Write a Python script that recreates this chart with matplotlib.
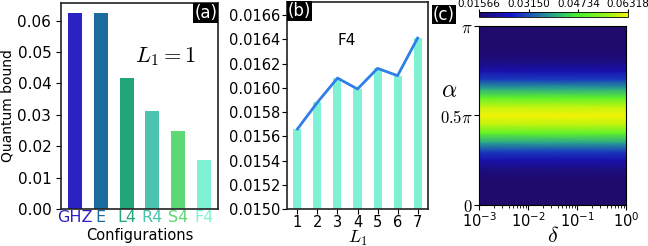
import numpy as np
import matplotlib
matplotlib.use("Agg")
import matplotlib.pyplot as plt
from matplotlib.colors import LinearSegmentedColormap
from matplotlib.ticker import FormatStrFormatter

# panel (a): quantum bound per configuration at L1 = 1
configs = ["GHZ", "E", "L4", "R4", "S4", "F4"]
bounds = [0.0625, 0.0625, 0.0417, 0.03125, 0.025, 0.0156]
config_colors = ["#2c22c4", "#1b6c9e", "#22a678", "#4ac4ae", "#5cd874", "#7ff2d6"]

# panel (b): F4 bound vs L1
l1_values = [1, 2, 3, 4, 5, 6, 7]
f4_bounds = [0.01566, 0.01588, 0.01608, 0.01599, 0.01616, 0.01610, 0.01641]

# panel (c): bound vs alpha (constant along delta)
alpha_over_pi = [0.0, 0.05, 0.1, 0.15, 0.2, 0.25, 0.3, 0.35, 0.4, 0.45, 0.5,
                 0.55, 0.6, 0.65, 0.7, 0.75, 0.8, 0.85, 0.9, 0.95, 1.0]
alpha_bounds = [0.01566, 0.01566, 0.01580, 0.01637, 0.01804, 0.02231, 0.02992,
                0.03942, 0.04987, 0.05938, 0.06318, 0.05938, 0.04987, 0.03942,
                0.02992, 0.02231, 0.01804, 0.01637, 0.01580, 0.01566, 0.01566]
delta_range = [1e-3, 1e0]
cbar_ticks = [0.01566, 0.03150, 0.04734, 0.06318]

cmap = LinearSegmentedColormap.from_list(
    "bound",
    [(0.0, "#1e0b6b"), (0.22, "#1414d2"), (0.5, "#2aa88a"),
     (0.65, "#44ee33"), (0.85, "#90f51a"), (1.0, "#f2f205")],
)

fig = plt.figure(figsize=(6.48, 2.46), dpi=100)


def panel_label(ax, text, x, y, ha):
    ax.text(x, y, text, transform=ax.transAxes, ha=ha, va="top", color="white",
            fontsize=12, bbox=dict(facecolor="black", edgecolor="none", pad=0.6))


# (a)
ax_a = fig.add_axes([0.0941, 0.1504, 0.2423, 0.8374])
x = np.arange(len(configs))
ax_a.bar(x, bounds, width=0.55, color=config_colors)
ax_a.set_xticks(x)
ax_a.set_xticklabels(configs, fontsize=11.5)
for lab, c in zip(ax_a.get_xticklabels(), config_colors):
    lab.set_color(c)
ax_a.tick_params(axis="x", length=0, pad=1)
ax_a.tick_params(axis="y", labelsize=11)
ax_a.set_yticks([0.0, 0.01, 0.02, 0.03, 0.04, 0.05, 0.06])
ax_a.set_ylabel("Quantum bound", fontsize=10, labelpad=2)
ax_a.set_xlabel("Configurations", fontsize=10.5, labelpad=2)
ax_a.text(0.47, 0.74, r"$L_1=1$", transform=ax_a.transAxes, fontsize=16,
          va="center", math_fontfamily="cm")
panel_label(ax_a, "(a)", 0.995, 0.995, "right")

# (b)
ax_b = fig.add_axes([0.4429, 0.1504, 0.2176, 0.8426])
ax_b.bar(l1_values, f4_bounds, width=0.4, color="#7ff2d6")
ax_b.plot(l1_values, f4_bounds, color="#2f7fe8", lw=2)
ax_b.set_ylim(0.0150, 0.01671)
ax_b.set_yticks(np.arange(0.0150, 0.01661, 0.0002))
ax_b.yaxis.set_major_formatter(FormatStrFormatter("%.4f"))
ax_b.set_xticks(l1_values)
ax_b.tick_params(labelsize=10.5, pad=1)
ax_b.set_xlabel(r"$L_1$", fontsize=13, math_fontfamily="cm", labelpad=-1)
ax_b.text(0.36, 0.815, "F4", transform=ax_b.transAxes, fontsize=11,
          va="center")
panel_label(ax_b, "(b)", 0.005, 0.998, "left")

for ax in (ax_a, ax_b):
    for sp in ax.spines.values():
        sp.set_linewidth(1.2)
        sp.set_color("#222222")

# (c)
ax_c = fig.add_axes([0.7392, 0.1667, 0.2269, 0.7276])
yy = np.array(alpha_over_pi) * np.pi
X, Y = np.meshgrid(delta_range, yy)
C = np.repeat(np.array(alpha_bounds)[:, None], len(delta_range), axis=1)
mesh = ax_c.pcolormesh(X, Y, C, shading="gouraud", cmap=cmap,
                       vmin=cbar_ticks[0], vmax=cbar_ticks[-1])
ax_c.set_xscale("log")
ax_c.set_xlim(delta_range)
ax_c.set_ylim(0, np.pi)
ax_c.set_xticks([1e-3, 1e-2, 1e-1, 1e0])
ax_c.set_yticks([0, 0.5 * np.pi, np.pi])
ax_c.set_yticklabels([r"$0$", r"$0.5\pi$", r"$\pi$"])
for lab in ax_c.get_yticklabels():
    lab.set_math_fontfamily("cm")
    lab.set_fontsize(12)
ax_c.tick_params(axis="x", labelsize=10.5, pad=1)
ax_c.tick_params(axis="y", pad=1)
ax_c.set_xlabel(r"$\delta$", fontsize=16, math_fontfamily="cm", labelpad=-2.5)
ax_c.set_ylabel(r"$\alpha$", fontsize=17, math_fontfamily="cm", rotation=0,
                va="center", labelpad=0)
ax_c.yaxis.set_label_coords(-0.2, 0.64)

cax = fig.add_axes([0.7392, 0.931, 0.2299, 0.0203])
cb = fig.colorbar(mesh, cax=cax, orientation="horizontal", ticks=cbar_ticks)
cb.ax.xaxis.set_ticks_position("top")
cb.ax.set_xticklabels([f"{t:.5f}" for t in cbar_ticks])
cb.ax.tick_params(labelsize=7.5, pad=0, length=2)
cb.outline.set_linewidth(0.6)

fig.text(0.668, 0.977, "(c)", ha="left", va="top", color="white", fontsize=12,
         bbox=dict(facecolor="black", edgecolor="none", pad=0.6))

fig.savefig("out.png", dpi=100)
